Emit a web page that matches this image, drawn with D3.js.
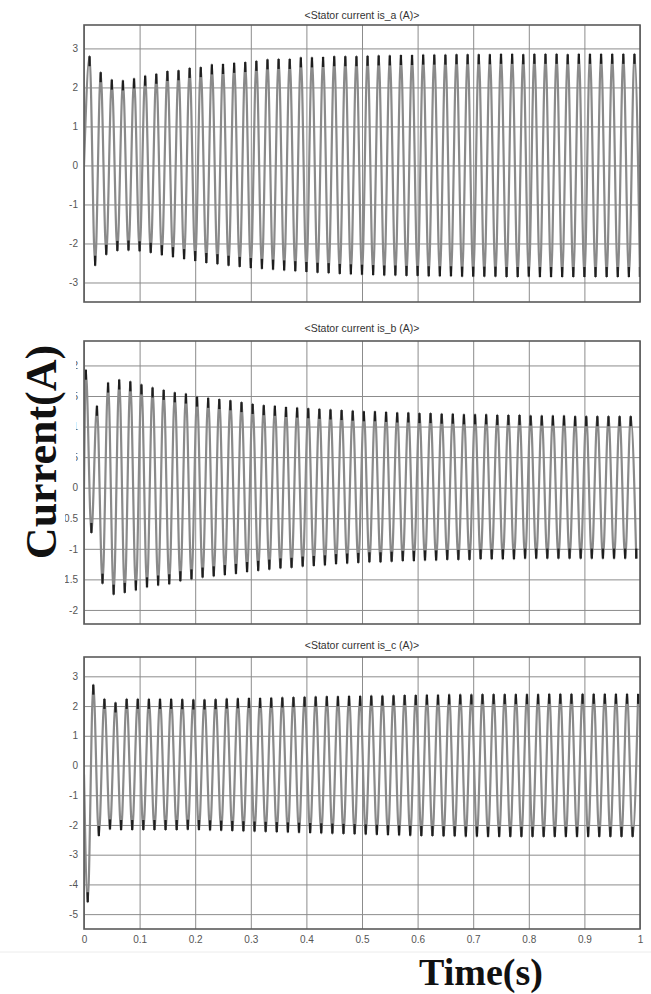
<!DOCTYPE html>
<html>
<head>
<meta charset="utf-8">
<script src="https://cdn.jsdelivr.net/npm/d3@7"></script>
<style>
  body { margin: 0; background: #fff; }
  svg { display: block; }
</style>
</head>
<body>
<script>
// peak values per cycle (50 Hz, 1 s)
const period = 0.02;

const aStart = 0;
const aFirstPos = 0.010, aFirstNeg = 0.020;
const aPos = [2.80, 2.39, 2.20, 2.18, 2.23, 2.30, 2.35, 2.42, 2.44, 2.50,
              2.52, 2.59, 2.60, 2.63, 2.65, 2.68, 2.72, 2.73, 2.73, 2.77,
              2.77, 2.78, 2.80, 2.80, 2.80, 2.81, 2.82, 2.82, 2.83, 2.83,
              2.84, 2.84, 2.84, 2.85, 2.85, 2.85, 2.85, 2.86, 2.86, 2.85,
              2.86, 2.86, 2.86, 2.85, 2.86, 2.86, 2.86, 2.86, 2.86, 2.86];
const aNeg = [-2.57, -2.29, -2.19, -2.18, -2.20, -2.24, -2.30, -2.35, -2.40, -2.45,
              -2.50, -2.53, -2.57, -2.60, -2.63, -2.65, -2.67, -2.69, -2.71, -2.73,
              -2.75, -2.76, -2.78, -2.79, -2.80, -2.81, -2.82, -2.82, -2.83, -2.83,
              -2.84, -2.84, -2.84, -2.85, -2.85, -2.85, -2.85, -2.86, -2.86, -2.85,
              -2.86, -2.86, -2.86, -2.86, -2.86, -2.86, -2.86, -2.86, -2.86, -2.86];

const bStart = 0;
const bFirstPos = 0.0033, bFirstNeg = 0.0133;
const bPos = [1.93, 1.34, 1.72, 1.77, 1.74, 1.69, 1.64, 1.60, 1.56, 1.54,
              1.49, 1.47, 1.45, 1.43, 1.40, 1.37, 1.35, 1.34, 1.32, 1.31,
              1.30, 1.29, 1.28, 1.27, 1.26, 1.25, 1.25, 1.24, 1.23, 1.23,
              1.22, 1.22, 1.21, 1.21, 1.20, 1.20, 1.20, 1.19, 1.19, 1.19,
              1.18, 1.18, 1.18, 1.18, 1.17, 1.17, 1.17, 1.17, 1.17, 1.17];
const bNeg = [-0.74, -1.57, -1.75, -1.72, -1.68, -1.63, -1.60, -1.58, -1.53, -1.50,
              -1.47, -1.45, -1.43, -1.41, -1.38, -1.36, -1.34, -1.32, -1.31, -1.29,
              -1.28, -1.27, -1.25, -1.24, -1.23, -1.22, -1.22, -1.21, -1.20, -1.20,
              -1.19, -1.19, -1.18, -1.18, -1.18, -1.17, -1.17, -1.17, -1.17, -1.16,
              -1.16, -1.16, -1.16, -1.16, -1.16, -1.16, -1.16, -1.16, -1.16, -1.16];

const cStart = -0.3;
const cFirstPos = 0.0167, cFirstNeg = 0.0067;
const cPos = [2.72, 2.24, 2.12, 2.24, 2.24, 2.24, 2.24, 2.24, 2.23, 2.22,
              2.22, 2.23, 2.25, 2.26, 2.27, 2.27, 2.28, 2.29, 2.30, 2.31,
              2.32, 2.33, 2.33, 2.34, 2.34, 2.35, 2.35, 2.36, 2.37, 2.37,
              2.38, 2.38, 2.39, 2.39, 2.39, 2.40, 2.40, 2.40, 2.40, 2.40,
              2.40, 2.41, 2.41, 2.41, 2.41, 2.41, 2.41, 2.41, 2.41, 2.41];
const cNeg = [-4.60, -2.37, -2.15, -2.17, -2.17, -2.17, -2.17, -2.17, -2.17, -2.16,
              -2.17, -2.18, -2.19, -2.20, -2.21, -2.22, -2.23, -2.24, -2.25, -2.26,
              -2.27, -2.28, -2.29, -2.30, -2.31, -2.32, -2.33, -2.34, -2.35, -2.36,
              -2.37, -2.37, -2.38, -2.38, -2.39, -2.39, -2.40, -2.40, -2.40, -2.40,
              -2.40, -2.40, -2.40, -2.40, -2.40, -2.40, -2.40, -2.40, -2.40, -2.40];

const titles = ["<Stator current is_a (A)>", "<Stator current is_b (A)>", "<Stator current is_c (A)>"];
const yTicksA = [3, 2, 1, 0, -1, -2, -3];
const yLabelsA = ["3", "2", "1", "0", "-1", "-2", "-3"];
const yTicksB = [2, 1.5, 1, 0.5, 0, -0.5, -1, -1.5, -2];
const yLabelsB = ["2", "1.5", "1", "0.5", "0", "-0.5", "-1", "-1.5", "-2"];
const yTicksC = [3, 2, 1, 0, -1, -2, -3, -4, -5];
const yLabelsC = ["3", "2", "1", "0", "-1", "-2", "-3", "-4", "-5"];
const xTicks = [0, 0.1, 0.2, 0.3, 0.4, 0.5, 0.6, 0.7, 0.8, 0.9, 1];
const xLabels = ["0", "0.1", "0.2", "0.3", "0.4", "0.5", "0.6", "0.7", "0.8", "0.9", "1"];

function buildSeries(start, firstPos, pos, firstNeg, neg) {
  const pts = [{t: 0, v: start}];
  pos.forEach((v, k) => pts.push({t: firstPos + k * period, v: v, peak: true}));
  neg.forEach((v, k) => pts.push({t: firstNeg + k * period, v: v, peak: true}));
  return pts.sort((p, q) => p.t - q.t);
}

const svg = d3.select("body").append("svg")
  .attr("width", 651)
  .attr("height", 994);

const left = 84, right = 640;
const x = d3.scaleLinear().domain([0, 1]).range([left, right]);

const panels = [
  {top: 25, bottom: 302, dom: [-3.5, 3.6], ticks: yTicksA, labels: yLabelsA, title: titles[0], titleY: 19,
   data: buildSeries(aStart, aFirstPos, aPos, aFirstNeg, aNeg)},
  {top: 341, bottom: 624, dom: [-2.23, 2.4], ticks: yTicksB, labels: yLabelsB, title: titles[1], titleY: 332,
   data: buildSeries(bStart, bFirstPos, bPos, bFirstNeg, bNeg)},
  {top: 657, bottom: 929, dom: [-5.5, 3.65], ticks: yTicksC, labels: yLabelsC, title: titles[2], titleY: 649,
   data: buildSeries(cStart, cFirstPos, cPos, cFirstNeg, cNeg), xAxis: true}
];

panels.forEach((p, i) => {
  const y = d3.scaleLinear().domain(p.dom).range([p.bottom, p.top]);
  const g = svg.append("g");

  // grid
  g.append("g")
    .attr("transform", `translate(0,${p.bottom})`)
    .call(d3.axisBottom(x).tickValues(xTicks).tickSize(-(p.bottom - p.top)).tickFormat(""))
    .call(s => s.select(".domain").remove())
    .call(s => s.selectAll("line").attr("stroke", "#8c8c8c").attr("stroke-width", 1));
  g.append("g")
    .attr("transform", `translate(${left},0)`)
    .call(d3.axisLeft(y).tickValues(p.ticks).tickSize(-(right - left)).tickFormat(""))
    .call(s => s.select(".domain").remove())
    .call(s => s.selectAll("line").attr("stroke", "#8c8c8c").attr("stroke-width", 1));

  // y tick labels
  g.append("g")
    .attr("transform", `translate(${left},0)`)
    .call(d3.axisLeft(y).tickValues(p.ticks).tickSize(0).tickPadding(6)
      .tickFormat((d, k) => p.labels[k]))
    .call(s => s.select(".domain").remove())
    .call(s => s.selectAll("text")
      .attr("font-family", "Liberation Sans, Arial, sans-serif")
      .attr("font-size", 10)
      .attr("fill", "#555"));

  if (p.xAxis) {
    g.append("g")
      .attr("transform", `translate(0,${p.bottom})`)
      .call(d3.axisBottom(x).tickValues(xTicks).tickSize(0).tickPadding(7)
        .tickFormat((d, k) => xLabels[k]))
      .call(s => s.select(".domain").remove())
      .call(s => s.selectAll("text")
        .attr("font-family", "Liberation Sans, Arial, sans-serif")
        .attr("font-size", 10)
        .attr("fill", "#555"));
  }

  // trace
  const clipId = "clip" + i;
  svg.append("clipPath").attr("id", clipId)
    .append("rect").attr("x", left).attr("y", p.top)
    .attr("width", right - left).attr("height", p.bottom - p.top);

  const line = d3.line()
    .x(d => x(d.t))
    .y(d => y(d.v))
    .curve(d3.curveMonotoneX);

  const tr = g.append("g").attr("clip-path", `url(#${clipId})`);
  tr.append("path")
    .datum(p.data)
    .attr("d", line)
    .attr("fill", "none")
    .attr("stroke", "#8a8a8a")
    .attr("stroke-width", 2.2);

  // darker tips at the peaks
  tr.selectAll("line.tip")
    .data(p.data.filter(d => d.peak))
    .join("line")
    .attr("class", "tip")
    .attr("x1", d => x(d.t))
    .attr("x2", d => x(d.t))
    .attr("y1", d => y(d.v))
    .attr("y2", d => y(d.v) + (d.v > 0 ? 10 : -10))
    .attr("stroke", "#1e1e1e")
    .attr("stroke-width", 2.3);

  // box
  g.append("rect")
    .attr("x", left).attr("y", p.top)
    .attr("width", right - left).attr("height", p.bottom - p.top)
    .attr("fill", "none")
    .attr("stroke", "#5a5a5a")
    .attr("stroke-width", 1.6);

  // title
  g.append("text")
    .attr("x", (left + right) / 2)
    .attr("y", p.titleY)
    .attr("text-anchor", "middle")
    .attr("font-family", "Liberation Sans, Arial, sans-serif")
    .attr("font-size", 10.5)
    .attr("fill", "#333")
    .text(p.title);
});

// white label box for "Current(A)" sits over part of the middle tick labels
svg.append("rect").attr("x", 0).attr("y", 338).attr("width", 76).attr("height", 130).attr("fill", "#fff");
svg.append("rect").attr("x", 0).attr("y", 468).attr("width", 65).attr("height", 132).attr("fill", "#fff");

svg.append("text")
  .attr("transform", "translate(56,452) rotate(-90)")
  .attr("text-anchor", "middle")
  .attr("font-family", "Liberation Serif, Times New Roman, serif")
  .attr("font-weight", "bold")
  .attr("font-size", 44)
  .attr("fill", "#111")
  .text("Current(A)");

svg.append("line")
  .attr("x1", 0).attr("x2", 651).attr("y1", 952).attr("y2", 952)
  .attr("stroke", "#ececec");

svg.append("text")
  .attr("x", 481)
  .attr("y", 985)
  .attr("text-anchor", "middle")
  .attr("font-family", "Liberation Serif, Times New Roman, serif")
  .attr("font-weight", "bold")
  .attr("font-size", 38)
  .attr("fill", "#111")
  .text("Time(s)");
</script>
</body>
</html>
